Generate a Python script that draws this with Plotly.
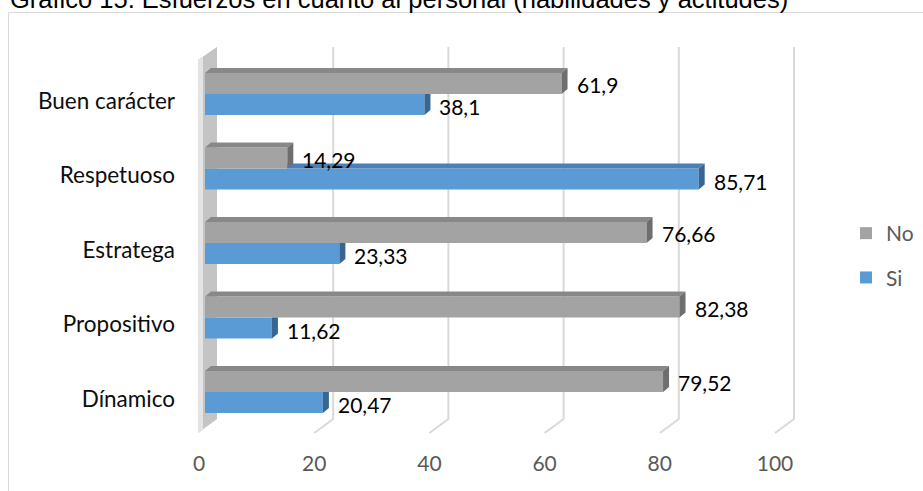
import plotly.graph_objects as go

# ---------------- data ----------------
categories = ["Buen carácter", "Respetuoso", "Estratega", "Propositivo", "Dínamico"]
no_values = [61.9, 14.29, 76.66, 82.38, 79.52]
si_values = [38.1, 85.71, 23.33, 11.62, 20.47]
no_labels = ["61,9", "14,29", "76,66", "82,38", "79,52"]
si_labels = ["38,1", "85,71", "23,33", "11,62", "20,47"]
x_ticks = [0, 20, 40, 60, 80, 100]
title_text = "Gráfico 15. Esfuerzos en cuanto al personal (habilidades y actitudes)"

# ---------------- layout geometry ----------------
W, H = 923, 491
ML, MR, MT, MB = 190, 8, 40, 46
PW, PH = W - ML - MR, H - MT - MB
X0_PX = 205.0          # pixel where value 0 of the bar front faces sits
SX = 5.76              # px per unit
Y0_PX = 392.0          # pixel of category index 0 (bottom category)
SY = 74.5              # px per category
x_range = [(ML - X0_PX) / SX, (ML + PW - X0_PX) / SX]
y_range = [(Y0_PX - (MT + PH)) / SY, (Y0_PX - MT) / SY]

def px2x(px):
    return (px - X0_PX) / SX

def px2y(py):
    return (Y0_PX - py) / SY

def ppx(px):
    return (px - ML) / PW

def ppy(py):
    return (MT + PH - py) / PH

n = len(categories)
ypos = [n - 1 - k for k in range(n)]
BW = 0.282
bargap = 1 - 2 * BW
DX = 6 / SX           # bar depth (x)
DY = 5 / SY           # bar depth (y)

GRAY = "#a3a3a3"
GRAY_TOP = "#888888"
GRAY_END = "#6e6e6e"
BLUE = "#5b9bd5"
BLUE_TOP = "#4a7fb8"
BLUE_END = "#386592"

fig = go.Figure()
fig.add_trace(go.Bar(y=ypos, x=si_values, orientation="h", name="Si",
                     marker=dict(color=BLUE, line=dict(width=0)),
                     legendgroup="si", legendrank=2, hoverinfo="skip"))
fig.add_trace(go.Bar(y=ypos, x=no_values, orientation="h", name="No",
                     marker=dict(color=GRAY, line=dict(width=0)),
                     legendgroup="no", legendrank=1, hoverinfo="skip"))

def poly(xs, ys, color):
    fig.add_trace(go.Scatter(x=xs + [xs[0]], y=ys + [ys[0]], mode="lines",
                             fill="toself", fillcolor=color,
                             line=dict(width=0, color=color),
                             showlegend=False, hoverinfo="skip"))

# blue faces (only visible parts)
for yi, b, g in zip(ypos, si_values, no_values):
    top = yi
    bot = yi - BW
    if b > g:
        poly([g, b, b + DX, g], [top, top, top + DY, top + DY], BLUE_TOP)
        poly([b, b, b + DX, b + DX], [bot, top, top + DY, bot + DY], BLUE_END)
    else:
        poly([b, b, b + DX, b + DX], [bot, top, top, bot + DY], BLUE_END)

# gray faces
for yi, g in zip(ypos, no_values):
    bot = yi
    top = yi + BW
    poly([0, g, g + DX, DX], [top, top, top + DY, top + DY], GRAY_TOP)
    poly([g, g, g + DX, g + DX], [bot, top, top + DY, bot + DY], GRAY_END)

shapes = []
# back wall
shapes.append(dict(type="path", xref="x", yref="y", layer="below",
                   path=f"M{px2x(198)},{px2y(433)} L{px2x(198)},{px2y(60)} L{px2x(217)},{px2y(47)} L{px2x(217)},{px2y(419)} Z",
                   fillcolor="#c4c4c4", line=dict(width=0)))
shapes.append(dict(type="path", xref="x", yref="y", layer="below",
                   path=f"M{px2x(198)},{px2y(433)} L{px2x(198)},{px2y(60)} L{px2x(203)},{px2y(57)} L{px2x(203)},{px2y(430)} Z",
                   fillcolor="#e4e4e4", line=dict(width=0)))
# gridlines on the back plane with floor slant
back = 13 / SX
front = (13 - 19) / SX
for v in x_ticks[1:]:
    shapes.append(dict(type="path", xref="x", yref="y", layer="below",
                       path=f"M{v + back},{px2y(47)} L{v + back},{px2y(419)} L{v + front},{px2y(433)}",
                       line=dict(color="#d9d9d9", width=2)))
# chart frame
shapes.append(dict(type="rect", xref="paper", yref="paper", layer="below",
                   x0=ppx(8.5), x1=ppx(935), y0=ppy(510), y1=ppy(12.5),
                   line=dict(color="#d9d9d9", width=1), fillcolor="rgba(0,0,0,0)"))

annotations = []
lab_font = dict(family="Lato", size=21, color="#000000")
for yi, g, gl in zip(ypos, no_values, no_labels):
    annotations.append(dict(x=g, y=yi + BW / 2, xref="x", yref="y", text=gl,
                            showarrow=False, xanchor="left", yanchor="middle",
                            xshift=13, yshift=-1, font=lab_font))
for yi, b, bl in zip(ypos, si_values, si_labels):
    annotations.append(dict(x=b, y=yi - BW / 2, xref="x", yref="y", text=bl,
                            showarrow=False, xanchor="left", yanchor="middle",
                            xshift=13, yshift=-2, font=lab_font))
annotations.append(dict(x=ppx(8), y=ppy(15), xref="paper", yref="paper",
                        text=title_text, showarrow=False, xanchor="left",
                        yanchor="bottom",
                        font=dict(family="Liberation Sans", size=25.5, color="#000000")))

fig.update_layout(
    width=W, height=H,
    margin=dict(l=ML, r=MR, t=MT, b=MB, pad=0, autoexpand=False),
    paper_bgcolor="white", plot_bgcolor="rgba(0,0,0,0)",
    barmode="group", bargap=bargap, bargroupgap=0,
    showlegend=True,
    legend=dict(xref="container", yref="container",
                x=846 / W, y=1 - 213 / H, xanchor="left", yanchor="top",
                traceorder="grouped", tracegroupgap=14,
                font=dict(family="Lato", size=21, color="#595959"),
                bgcolor="rgba(0,0,0,0)", itemwidth=30),
    xaxis=dict(range=x_range, tickvals=x_ticks, ticktext=[str(v) for v in x_ticks],
               showgrid=False, zeroline=False, showline=False, ticks="",
               tickfont=dict(family="Lato", size=21, color="#595959"),
               ticklabelshift=-6, ticklabelstandoff=4, fixedrange=True),
    yaxis=dict(range=y_range, tickvals=ypos, ticktext=categories,
               showgrid=False, zeroline=False, showline=False, ticks="",
               tickfont=dict(family="Lato", size=22.5, color="#0d0d0d"),
               ticklabelshift=7, ticklabelstandoff=14, fixedrange=True),
    shapes=shapes, annotations=annotations,
)

fig.write_html("out.html")
